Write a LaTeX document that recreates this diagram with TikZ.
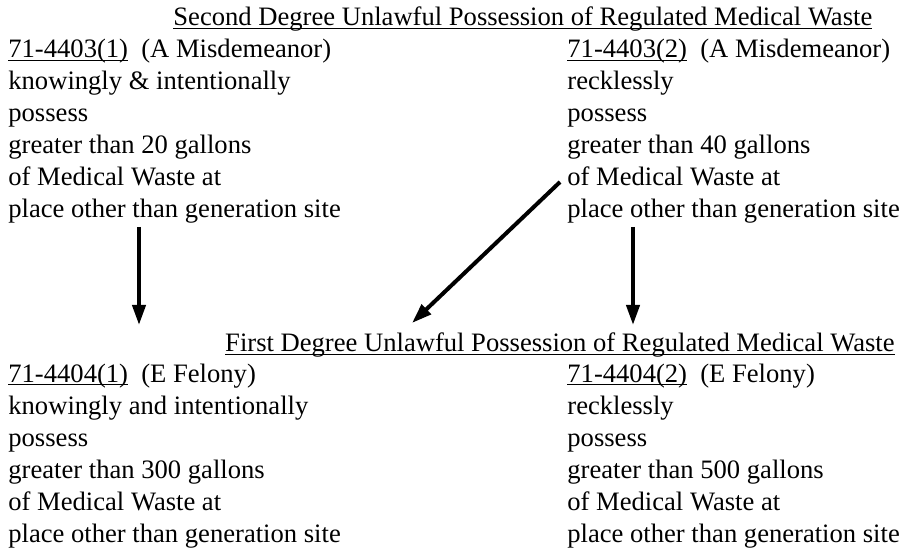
\documentclass[tikz,border=0pt]{standalone}
\usepackage{fontspec}
\setmainfont{Liberation Serif}
\usetikzlibrary{arrows.meta}
\newsavebox\ulbox
\newcommand\myul[1]{\sbox\ulbox{#1}\rlap{\rule[-1.7pt]{\wd\ulbox}{0.7pt}}\usebox\ulbox}
\begin{document}
\begin{tikzpicture}[x=0.5pt,y=-0.5pt,
  txt/.style={font=\fontsize{13.3pt}{16pt}\selectfont, inner sep=0pt, align=left},
  arr/.style={line width=2pt, -{Triangle[length=10pt,width=6.5pt]}}]
\useasboundingbox (0,0) rectangle (909,549);
\node[txt, anchor=base west] (t1) at (173,26) {\myul{Second Degree Unlawful Possession of Regulated Medical Waste}};
\node[txt, anchor=base west] (l1) at (8,218) {\myul{71-4403(1)}\ \ (A Misdemeanor)\\ knowingly \& intentionally\\ possess\\ greater than 20 gallons\\ of Medical Waste at\\ place other than generation site};
\node[txt, anchor=base west] (r1) at (567,218) {\myul{71-4403(2)}\ \ (A Misdemeanor)\\ recklessly\\ possess\\ greater than 40 gallons\\ of Medical Waste at\\ place other than generation site};
\node[txt, anchor=base east] (t2) at (895,352) {\myul{First Degree Unlawful Possession of Regulated Medical Waste}};
\node[txt, anchor=base west] (l2) at (8,542) {\myul{71-4404(1)}\ \ (E Felony)\\ knowingly and intentionally\\ possess\\ greater than 300 gallons\\ of Medical Waste at\\ place other than generation site};
\node[txt, anchor=base west] (r2) at (567,542) {\myul{71-4404(2)}\ \ (E Felony)\\ recklessly\\ possess\\ greater than 500 gallons\\ of Medical Waste at\\ place other than generation site};
\coordinate (a1s) at (139,227);
\coordinate (a1e) at (139,325);
\coordinate (a2s) at (560,182);
\coordinate (a2e) at (412,323);
\coordinate (a3s) at (633,227);
\coordinate (a3e) at (633,325);
\draw[arr] (a1s) -- (a1e);
\draw[arr] (a2s) -- (a2e);
\draw[arr] (a3s) -- (a3e);
\end{tikzpicture}
\end{document}
